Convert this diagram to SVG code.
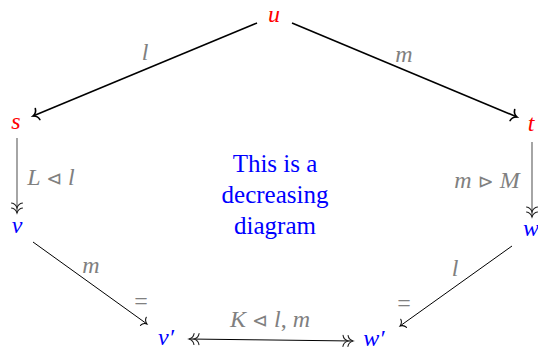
<svg xmlns="http://www.w3.org/2000/svg" width="538" height="350" viewBox="0 0 538 350">
<style>
.node{font-family:"Liberation Serif",serif;font-style:italic;font-size:24px;text-anchor:middle}
.red{fill:#ff0000}
.blue{fill:#0000ff}
.lbl{font-family:"Liberation Serif","DejaVu Serif",serif;font-style:italic;font-size:24px;fill:#808080;text-anchor:middle}
.sym{font-family:"DejaVu Sans",sans-serif;font-style:normal;font-size:19px}
.up{font-style:normal}
.center{font-family:"Liberation Serif",serif;font-size:25px;fill:#0000ff;text-anchor:middle}
.thick{stroke:#000;stroke-width:1.6;fill:none}
.thin{stroke:#000;stroke-width:1;fill:none}
.gray{stroke:#6a6a6a;stroke-width:1.2;fill:none}
</style>
<defs>
<marker id="to" markerUnits="userSpaceOnUse" orient="auto" refX="0" refY="0" overflow="visible">
<path d="M-5,-6 C-4.5,-2.5 -1.8,-0.6 0,0 C-1.8,0.6 -4.5,2.5 -5,6" fill="none" stroke="#000" stroke-width="1.6" stroke-linecap="round"/>
</marker>
<marker id="toThin" markerUnits="userSpaceOnUse" orient="auto" refX="0" refY="0" overflow="visible">
<path d="M-4.5,-5 C-4,-2 -1.5,-0.5 0,0 C-1.5,0.5 -4,2 -4.5,5" fill="none" stroke="#000" stroke-width="1" stroke-linecap="round"/>
</marker>
<marker id="dbl" markerUnits="userSpaceOnUse" orient="auto-start-reverse" refX="0" refY="0" overflow="visible">
<path d="M-5,-5.5 C-4.5,-2.2 -1.6,-0.5 0,0 C-1.6,0.5 -4.5,2.2 -5,5.5 M-10,-5.5 C-9.5,-2.2 -6.6,-0.5 -5,0 C-6.6,0.5 -9.5,2.2 -10,5.5" fill="none" stroke="#222" stroke-width="1.1" stroke-linecap="round"/>
</marker>
</defs>
<g id="connectors">
<line class="thick" x1="257" y1="23" x2="33" y2="116" marker-end="url(#to)"/>
<line class="thick" x1="292" y1="23" x2="517" y2="117" marker-end="url(#to)"/>
<line class="gray" x1="17" y1="138" x2="17" y2="213" marker-end="url(#dbl)"/>
<line class="gray" x1="532" y1="142" x2="532" y2="217" marker-end="url(#dbl)"/>
<line class="thin" x1="33" y1="242" x2="147" y2="324" marker-end="url(#toThin)"/>
<line class="thin" x1="512" y1="246" x2="400" y2="326" marker-end="url(#toThin)"/>
<line class="thin" x1="189" y1="339" x2="353" y2="341" marker-start="url(#dbl)" marker-end="url(#dbl)"/>
<text class="lbl" x="145" y="60">l</text>
<text class="lbl" x="404" y="62">m</text>
<text class="lbl" x="51" y="185">L <tspan class="sym">⊲</tspan> l</text>
<text class="lbl" x="487" y="188">m <tspan class="sym">⊳</tspan> M</text>
<text class="lbl" x="91" y="273">m</text>
<text class="lbl up" x="141" y="309">=</text>
<text class="lbl" x="455" y="276">l</text>
<text class="lbl up" x="404" y="311">=</text>
<text class="lbl" x="270" y="327">K <tspan class="sym">⊲</tspan> l<tspan class="up">,</tspan> m</text>
</g>
<g id="node-u"><text class="node red" x="274" y="22">u</text></g>
<g id="node-s"><text class="node red" x="16" y="129">s</text></g>
<g id="node-t"><text class="node red" x="531" y="131">t</text></g>
<g id="node-v"><text class="node blue" x="17" y="233">v</text></g>
<g id="node-w"><text class="node blue" x="531" y="236">w</text></g>
<g id="node-vp"><text class="node blue" x="166" y="345">v′</text></g>
<g id="node-wp"><text class="node blue" x="374" y="346">w′</text></g>
<g id="center-text">
<text class="center" x="275" y="172">This is a</text>
<text class="center" x="275" y="203">decreasing</text>
<text class="center" x="275" y="234">diagram</text>
</g>
</svg>
